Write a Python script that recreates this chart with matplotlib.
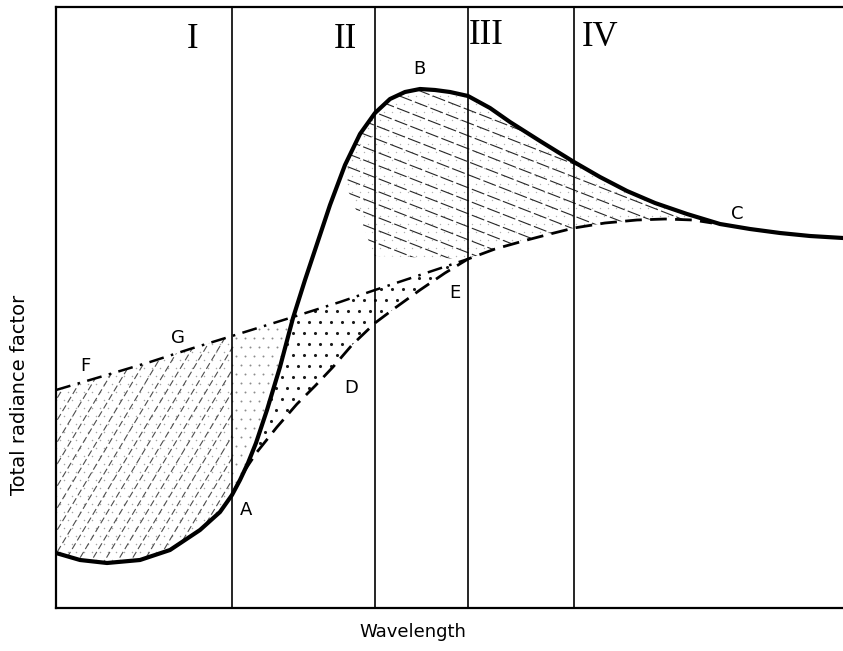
import numpy as np
import matplotlib.pyplot as plt
from matplotlib.patches import Polygon

# Schematic curves (arbitrary units, wavelength -> radiance factor)
solid_x = [0, 24, 51, 84, 114, 144, 164, 176, 184, 192, 200, 211, 224, 237, 249, 259, 274,
           289, 304, 319, 334, 349, 364, 379, 394, 412, 434, 454, 484, 518, 544, 571, 599,
           631, 664, 694, 724, 754, 787]
solid_y = [55, 48, 45, 48, 58, 78, 96, 113, 128, 145, 165, 198, 241, 290, 328, 358, 403,
           443, 474, 495, 509, 516, 519, 518, 516, 512, 500, 486, 467, 446, 431, 417, 405,
           394, 384, 379, 375, 372, 370]

dashed_x = [176, 189, 201, 221, 241, 259, 277, 296, 319, 339, 364, 389, 412, 439, 471,
            494, 518, 549, 581, 609, 637, 656]
dashed_y = [113, 138, 156, 181, 204, 222, 241, 263, 285, 300, 318, 335, 349, 359, 368,
            374, 380, 385, 388, 389, 388, 385]

dashdot_x = [0, 44, 94, 134, 176, 237, 284, 319, 364, 412]
dashdot_y = [218, 231, 246, 259, 272, 291, 306, 318, 333, 349]

band_edges = [176, 319, 412, 518]
band_names = ["I", "II", "III", "IV"]
roman_x = [137, 289, 430, 544]
roman_y = [568, 568, 572, 570]

point_names = ["A", "B", "C", "D", "E", "F", "G"]
point_x = [190, 363, 681, 295, 399, 29, 122]
point_y = [98, 539, 394, 220, 315, 242, 270]

W, H = 843, 651
fig = plt.figure(figsize=(W / 100, H / 100), dpi=100)
ax = fig.add_axes([56 / W, 43 / H, 787 / W, 601 / H])
ax.set_xlim(0, 787)
ax.set_ylim(0, 601)
ax.set_xticks([])
ax.set_yticks([])
ax.spines["right"].set_visible(False)
for s in ["left", "top", "bottom"]:
    ax.spines[s].set_linewidth(1.6)


def clip_patch(xs, ys):
    patch = Polygon(np.column_stack([xs, ys]), closed=True, fill=False,
                    edgecolor="none")
    ax.add_patch(patch)
    return patch


def hatch_lines(patch, slope, step, ls, lw=0.8, color="0.25"):
    xx = np.array([-50, 850])
    for c in np.arange(-1200, 1200, step):
        ln, = ax.plot(xx, slope * xx + c, color=color, lw=lw, ls=ls)
        ln.set_clip_path(patch)


def stipple(patch, step, size, color):
    gx, gy = np.meshgrid(np.arange(0, 787, step), np.arange(0, 601, step))
    gx = gx + (np.arange(gx.shape[0])[:, None] % 2) * step / 2
    sc = ax.scatter(gx.ravel(), gy.ravel(), s=size, color=color, lw=0)
    sc.set_clip_path(patch)


# region I: between dash-dot and solid curve
r1 = clip_patch(dashdot_x[:5] + solid_x[7::-1], dashdot_y[:5] + solid_y[7::-1])
stipple(r1, 8, 1.2, "0.65")
hatch_lines(r1, 1.67, 22, (0, (6, 3)), color="0.3")

# light dots left of the solid curve in band II
r2a = clip_patch(dashdot_x[4:6] + solid_x[13:6:-1], dashdot_y[4:6] + solid_y[13:6:-1])
stipple(r2a, 9, 2.0, "0.55")

# dense dots between solid, dash-dot and dashed curves
r2 = clip_patch(dashdot_x[5:] + dashed_x[12:1:-1] + solid_x[10:14],
                dashdot_y[5:] + dashed_y[12:1:-1] + solid_y[10:14])
stipple(r2, 11, 5, "0.1")

# region III: hatch between solid and lower curves
r3 = clip_patch(solid_x[17:36] + dashed_x[:11:-1] + [319, 289],
                solid_y[17:36] + dashed_y[:11:-1] + [352, 425])
stipple(r3, 8, 1.0, "0.7")
hatch_lines(r3, -0.39, 13, (0, (12, 3)), color="0.15")

for xb in band_edges:
    ax.axvline(xb, color="black", lw=1.2)

ax.plot(solid_x, solid_y, color="black", lw=3.0, solid_capstyle="round",
        solid_joinstyle="round")
ax.plot(dashed_x, dashed_y, color="black", lw=2.0, ls=(0, (6, 3)))
ax.plot(dashdot_x, dashdot_y, color="black", lw=1.8, ls=(0, (6, 3, 1, 3)))

for name, xr, yr in zip(band_names, roman_x, roman_y):
    ax.text(xr, yr, name, fontsize=25, family="Liberation Serif", ha="center",
            va="center")

for name, xp, yp in zip(point_names, point_x, point_y):
    ax.text(xp, yp, name, fontsize=13, ha="center", va="center")

fig.text(413 / W, 1 - 632 / H, "Wavelength", fontsize=13, ha="center", va="center")
fig.text(20 / W, 1 - 395 / H, "Total radiance factor", fontsize=14, ha="center",
         va="center", rotation=90)

fig.savefig("out.png", dpi=100)
